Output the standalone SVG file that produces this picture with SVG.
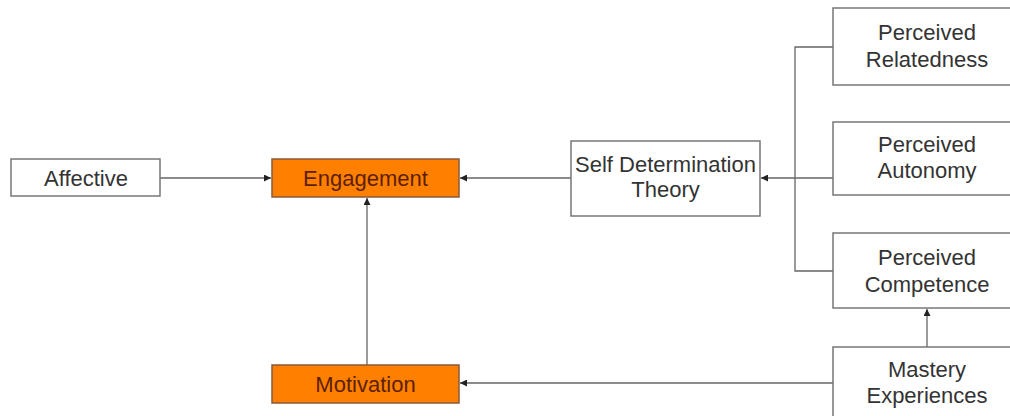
<svg xmlns="http://www.w3.org/2000/svg" width="1010" height="416" viewBox="0 0 1010 416">
<style>
.box{fill:#fff;stroke:#777;stroke-width:1.5}
.hl{fill:#ff8000;stroke:#8a5a3a;stroke-width:1.5}
.t{font-family:"Liberation Sans",Arial,sans-serif;font-size:22px;fill:#333;text-anchor:middle}
.th{font-family:"Liberation Sans",Arial,sans-serif;font-size:22px;fill:#5c1f00;text-anchor:middle}
.ln{fill:none;stroke:#666;stroke-width:1.3}
</style>
<defs>
<marker id="ah" viewBox="0 0 10 10" refX="10" refY="5" markerWidth="7" markerHeight="7" markerUnits="userSpaceOnUse" orient="auto">
<path d="M0,0 L10,5 L0,10 z" fill="#222"/>
</marker>
</defs>
<rect width="1010" height="416" fill="#fff"/>
<g id="connectors">
<path class="ln" d="M160,178 H271" marker-end="url(#ah)"/>
<path class="ln" d="M571,178 H460" marker-end="url(#ah)"/>
<path class="ln" d="M833,178 H761" marker-end="url(#ah)"/>
<path class="ln" d="M833,47 H795 V271 H833"/>
<path class="ln" d="M367,365 V198" marker-end="url(#ah)"/>
<path class="ln" d="M927,347 V309" marker-end="url(#ah)"/>
<path class="ln" d="M833,383 H460" marker-end="url(#ah)"/>
</g>
<g id="affective">
<rect class="box" x="11" y="159" width="149" height="37"/>
<text class="t" x="86" y="185.5">Affective</text>
</g>
<g id="engagement">
<rect class="hl" x="272" y="159" width="187" height="38"/>
<text class="th" x="365.5" y="185.5">Engagement</text>
</g>
<g id="motivation">
<rect class="hl" x="272" y="365" width="187" height="38"/>
<text class="th" x="365.5" y="391.5">Motivation</text>
</g>
<g id="sdt">
<rect class="box" x="571" y="141" width="189" height="75"/>
<text class="t" x="665.5" y="172">Self Determination</text>
<text class="t" x="665.5" y="197">Theory</text>
</g>
<g id="relatedness">
<rect class="box" x="833" y="8" width="189" height="77"/>
<text class="t" x="927" y="40">Perceived</text>
<text class="t" x="927" y="67">Relatedness</text>
</g>
<g id="autonomy">
<rect class="box" x="833" y="122" width="189" height="73"/>
<text class="t" x="927" y="152">Perceived</text>
<text class="t" x="927" y="178">Autonomy</text>
</g>
<g id="competence">
<rect class="box" x="833" y="233" width="189" height="75"/>
<text class="t" x="927" y="265">Perceived</text>
<text class="t" x="927" y="292">Competence</text>
</g>
<g id="mastery">
<rect class="box" x="833" y="347" width="189" height="80"/>
<text class="t" x="927" y="377">Mastery</text>
<text class="t" x="927" y="403">Experiences</text>
</g>
</svg>
